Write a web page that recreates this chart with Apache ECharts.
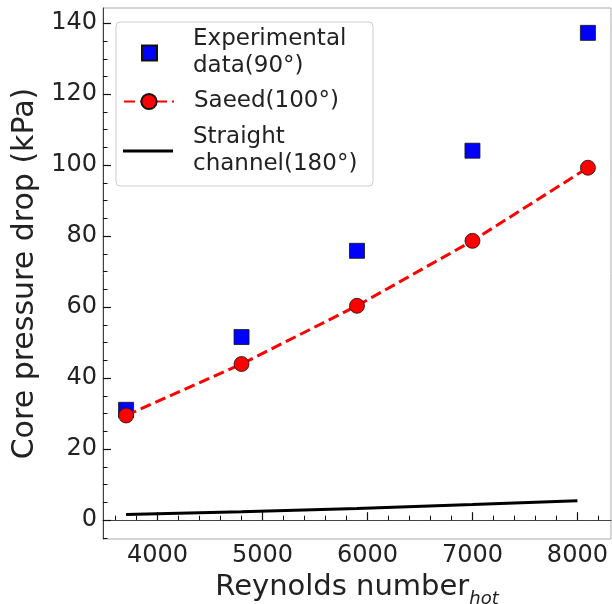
<!DOCTYPE html>
<html>
<head>
<meta charset="utf-8">
<script src="https://cdn.jsdelivr.net/npm/echarts@6/dist/echarts.min.js"></script>
<style>
html,body{margin:0;padding:0;background:#fff;}
#chart{width:612px;height:604px;}
</style>
</head>
<body>
<div id="chart"></div>
<script>
// ---- data ----
const reynolds = [3700, 4800, 5900, 7000, 8100];
const experimental = [31.1, 51.6, 75.9, 104.1, 137.3];
const saeed = [29.5, 44.0, 60.4, 78.7, 99.3];
const straightRe = [3700, 4800, 5900, 7000, 8000];
const straight = [1.6, 2.4, 3.3, 4.4, 5.5];
const xTickValues = [4000, 5000, 6000, 7000, 8000];
const yTickValues = [0, 20, 40, 60, 80, 100, 120, 140];
const seriesNames = ['Experimental data(90°)', 'Saeed(100°)', 'Straight channel(180°)'];

// minor tick positions
const xMinor = [];
for (let v = 3600; v <= 8200; v += 200) if (v % 1000 !== 0) xMinor.push(v);
const yMinor = [];
for (let v = -5; v <= 140; v += 5) if (v % 20 !== 0) yMinor.push(v);

const FONT = 'DejaVu Sans';
const X_MIN = 3480, X_MAX = 8320, Y_MIN = -5.3, Y_MAX = 144.3;

const chart = echarts.init(document.getElementById('chart'), null, {renderer: 'canvas'});

const pair = (xs, ys) => xs.map((x, i) => [x, ys[i]]);
const twoLines = name => name.replace(' ', '\n');
const plain = v => String(v);

const legendText = (pad) => ({
  fontFamily: FONT, fontSize: 23, color: '#222', lineHeight: 27, padding: [0, 0, 0, pad]
});

const option = {
  animation: false,
  backgroundColor: '#fff',
  textStyle: {fontFamily: FONT},
  grid: {left: 103, top: 8, width: 508, height: 531, show: true, borderColor: '#aaa', borderWidth: 1,
         containLabel: false, outerBoundsMode: 'none'},
  xAxis: [
    {
      type: 'value', min: X_MIN, max: X_MAX,
      name: '{a|Reynolds number}{b|hot}',
      nameLocation: 'middle', nameGap: 27,
      nameTextStyle: {
        rich: {
          a: {fontFamily: FONT, fontSize: 29, color: '#222', lineHeight: 30, verticalAlign: 'top'},
          b: {fontFamily: FONT, fontSize: 18, fontStyle: 'italic', color: '#222', lineHeight: 52}
        }
      },
      axisLine: {show: true, lineStyle: {color: '#444', width: 1}},
      axisTick: {show: true, inside: true, length: 8, customValues: xTickValues, lineStyle: {color: '#111', width: 1.2}},
      axisLabel: {show: true, customValues: xTickValues, formatter: plain, fontFamily: FONT, fontSize: 24, color: '#222', margin: 5},
      splitLine: {show: false}
    },
    {
      type: 'value', min: X_MIN, max: X_MAX, position: 'bottom', gridIndex: 0,
      axisLine: {show: false},
      axisTick: {show: true, inside: true, length: 4.5, customValues: xMinor, lineStyle: {color: '#111', width: 1}},
      axisLabel: {show: false},
      splitLine: {show: false}
    }
  ],
  yAxis: [
    {
      type: 'value', min: Y_MIN, max: Y_MAX,
      name: 'Core pressure drop (kPa)',
      nameLocation: 'middle', nameGap: 59,
      nameTextStyle: {fontFamily: FONT, fontSize: 30, color: '#222'},
      axisLine: {show: true, lineStyle: {color: '#444', width: 1}},
      axisTick: {show: true, inside: true, length: 8, customValues: yTickValues, lineStyle: {color: '#111', width: 1.2}},
      axisLabel: {show: true, customValues: yTickValues, formatter: plain, fontFamily: FONT, fontSize: 24, color: '#222', margin: 6},
      splitLine: {show: false}
    },
    {
      type: 'value', min: Y_MIN, max: Y_MAX, position: 'left', gridIndex: 0,
      axisLine: {show: false},
      axisTick: {show: true, inside: true, length: 4.5, customValues: yMinor, lineStyle: {color: '#111', width: 1}},
      axisLabel: {show: false},
      splitLine: {show: false}
    }
  ],
  graphic: [{
    type: 'rect', z: 3,
    shape: {x: 116, y: 22, width: 257, height: 164, r: 4},
    style: {fill: 'rgba(255,255,255,0.85)', stroke: '#cccccc', lineWidth: 1}
  }],
  legend: [
    {
      data: [{name: seriesNames[0], icon: 'rect'}],
      left: 141, top: 26, padding: 0, itemWidth: 15, itemHeight: 15,
      selectedMode: false, formatter: twoLines, textStyle: legendText(31), z: 5
    },
    {
      data: [seriesNames[1]],
      left: 123, top: 88, padding: 0, itemWidth: 50, itemHeight: 19,
      selectedMode: false, textStyle: legendText(15), z: 5
    },
    {
      data: [{name: seriesNames[2], icon: 'path://M0,0H50V3H0Z'}],
      left: 123, top: 124, padding: 0, itemWidth: 50, itemHeight: 18,
      selectedMode: false, formatter: twoLines, textStyle: legendText(15), z: 5
    }
  ],
  series: [
    {
      name: seriesNames[2], type: 'line', xAxisIndex: 0, yAxisIndex: 0,
      data: pair(straightRe, straight), symbol: 'none', smooth: false,
      color: '#000', lineStyle: {color: '#000', width: 3}, z: 2
    },
    {
      name: seriesNames[0], type: 'scatter', xAxisIndex: 0, yAxisIndex: 0,
      data: pair(reynolds, experimental), symbol: 'rect', symbolSize: 15,
      color: '#0000ff', itemStyle: {color: '#0000ff', opacity: 1, borderColor: '#111', borderWidth: 0.8}, z: 3
    },
    {
      name: seriesNames[1], type: 'line', xAxisIndex: 0, yAxisIndex: 0,
      data: pair(reynolds, saeed), symbol: 'circle', symbolSize: 15, showSymbol: true,
      color: '#ff0000',
      lineStyle: {color: '#ff0000', width: 3, type: [11, 5]},
      itemStyle: {color: '#ff0000', opacity: 1, borderColor: '#111', borderWidth: 0.8}, z: 4
    }
  ]
};
chart.setOption(option);
</script>
</body>
</html>
